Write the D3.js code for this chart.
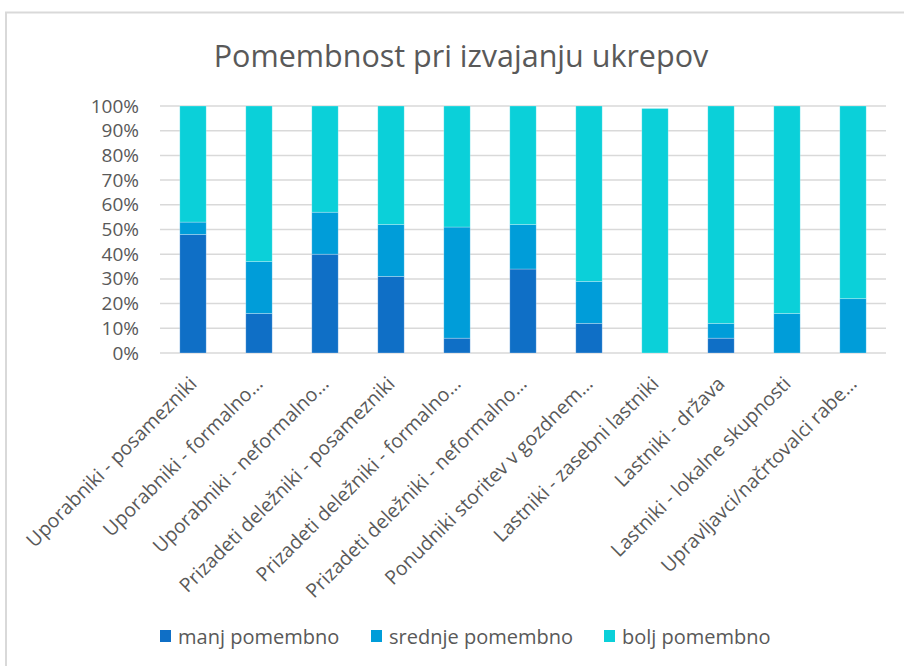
<!DOCTYPE html>
<html>
<head>
<meta charset="utf-8">
<script src="https://cdn.jsdelivr.net/npm/d3@7"></script>
<style>
  body { margin: 0; background: #fff; }
  svg text { font-family: "Open Sans", sans-serif; fill: #595959; }
</style>
</head>
<body>
<div id="chart"></div>
<script>
// categories (x axis)
var categories = [
  "Uporabniki - posamezniki",
  "Uporabniki - formalno…",
  "Uporabniki - neformalno…",
  "Prizadeti deležniki - posamezniki",
  "Prizadeti deležniki - formalno…",
  "Prizadeti deležniki - neformalno…",
  "Ponudniki storitev v gozdnem…",
  "Lastniki - zasebni lastniki",
  "Lastniki - država",
  "Lastniki - lokalne skupnosti",
  "Upravljavci/načrtovalci rabe…"
];

// series values (%)
var manj    = [48, 16, 40, 31,  6, 34, 12,  0,  6,  0,  0];
var srednje = [ 5, 21, 17, 21, 45, 18, 17,  0,  6, 16, 22];
var bolj    = [47, 63, 43, 48, 49, 48, 71, 99, 88, 84, 78];

var seriesNames = ["manj pomembno", "srednje pomembno", "bolj pomembno"];
var yTicks = [0, 10, 20, 30, 40, 50, 60, 70, 80, 90, 100];

var colors = ["#0F6FC6", "#009DD9", "#0BD0D9"];

var svgWidth = 904;
var svgHeight = 666;

var svg = d3.select("#chart")
  .append("svg")
  .attr("width", svgWidth)
  .attr("height", svgHeight);

// outer chart border (right and bottom edges fall outside the picture)
svg.append("rect")
  .attr("x", 6)
  .attr("y", 12.5)
  .attr("width", 940)
  .attr("height", 700)
  .attr("fill", "none")
  .attr("stroke", "#D9D9D9")
  .attr("stroke-width", 2);

// title
svg.append("text")
  .attr("x", 461)
  .attr("y", 67)
  .attr("text-anchor", "middle")
  .attr("font-size", "30.5px")
  .text("Pomembnost pri izvajanju ukrepov");

var x = d3.scaleBand()
  .domain(categories)
  .range([160, 886])
  .paddingInner(0.6)
  .paddingOuter(0.3);

var y = d3.scaleLinear()
  .domain([0, 100])
  .range([353, 106]);

// gridlines
svg.append("g")
  .selectAll("line")
  .data(yTicks)
  .enter()
  .append("line")
  .attr("x1", 160)
  .attr("x2", 886)
  .attr("y1", d => y(d))
  .attr("y2", d => y(d))
  .attr("stroke", "#D9D9D9")
  .attr("stroke-width", 1.5);

// y axis
var leftAxis = d3.axisLeft(y)
  .tickValues(yTicks)
  .tickSize(0)
  .tickPadding(0)
  .tickFormat(d => d + "%");

var yAxis = svg.append("g")
  .attr("transform", "translate(139, 0)")
  .call(leftAxis);
yAxis.select(".domain").remove();
yAxis.selectAll("text")
  .attr("font-size", "19px")
  .attr("font-family", null)
  .attr("fill", "#595959");

// stacked data
var table = categories.map(function(c, i) {
  return { cat: c, manj: manj[i], srednje: srednje[i], bolj: bolj[i] };
});
var stack = d3.stack().keys(["manj", "srednje", "bolj"]);
var stacked = stack(table);

svg.append("g")
  .selectAll("g")
  .data(stacked)
  .enter()
  .append("g")
  .attr("fill", (d, i) => colors[i])
  .selectAll("rect")
  .data(d => d)
  .enter()
  .append("rect")
  .attr("x", d => x(d.data.cat))
  .attr("width", x.bandwidth())
  .attr("y", d => y(d[1]))
  .attr("height", d => y(d[0]) - y(d[1]))
  .attr("stroke", "#ffffff")
  .attr("stroke-opacity", 0.35)
  .attr("stroke-width", 0.75);

// x axis labels (rotated)
var bottomAxis = d3.axisBottom(x)
  .tickSize(0)
  .tickPadding(0);

var xAxis = svg.append("g")
  .attr("transform", "translate(0, 353)")
  .call(bottomAxis);
xAxis.select(".domain").remove();
xAxis.selectAll("text")
  .attr("font-size", "19.5px")
  .attr("font-family", null)
  .attr("fill", "#595959")
  .attr("text-anchor", "end")
  .attr("dy", null)
  .attr("y", null)
  .attr("transform", "translate(5, 32) rotate(-45)");

// legend
var legendX = [160, 371, 604];
var legend = svg.append("g")
  .selectAll("g")
  .data(seriesNames)
  .enter()
  .append("g")
  .attr("transform", (d, i) => `translate(${legendX[i]}, 630)`);

legend.append("rect")
  .attr("width", 11)
  .attr("height", 12)
  .attr("fill", (d, i) => colors[i]);

legend.append("text")
  .attr("x", 18)
  .attr("y", 14)
  .attr("font-size", "20px")
  .text(d => d);
</script>
</body>
</html>
